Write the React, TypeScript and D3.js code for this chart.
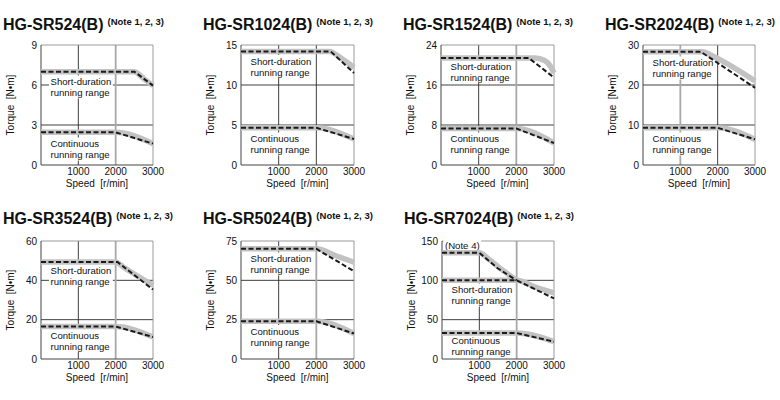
import { useEffect, useRef } from "react";
import * as d3 from "d3";

type Pt = [number, number];

// motor models, one small chart each
const models = [
  "HG-SR524(B)",
  "HG-SR1024(B)",
  "HG-SR1524(B)",
  "HG-SR2024(B)",
  "HG-SR3524(B)",
  "HG-SR5024(B)",
  "HG-SR7024(B)",
];
const torqueMax = [9, 15, 24, 30, 60, 75, 150];
const torqueTicks = [
  [0, 3, 6, 9],
  [0, 5, 10, 15],
  [0, 8, 16, 24],
  [0, 10, 20, 30],
  [0, 20, 40, 60],
  [0, 25, 50, 75],
  [0, 50, 100, 150],
];
const speedTicks = [1000, 2000, 3000];

// short-duration range: gray band and dashed curve
const shortBand: Pt[][] = [
  [[0, 7.0], [2500, 7.0], [2750, 6.48], [3000, 5.95]],
  [[0, 14.2], [2350, 14.2], [2700, 13.2], [3000, 12.2]],
  [[0, 21.4], [2500, 21.4], [2750, 20.9], [2900, 19.8], [3000, 18.4]],
  [[0, 28.3], [1600, 28.3], [1850, 27.3], [3000, 21.0]],
  [[0, 49.3], [2000, 49.3], [2200, 46.8], [3000, 37.5]],
  [[0, 70.0], [2000, 70.0], [2500, 65.8], [3000, 61.5]],
  [[0, 100], [2000, 100], [2500, 91.5], [3000, 84]],
];
const shortDash: Pt[][] = [
  [[0, 7.0], [2500, 7.0], [3000, 5.95]],
  [[0, 14.2], [2380, 14.2], [3000, 11.5]],
  [[0, 21.4], [2330, 21.4], [3000, 17.5]],
  [[0, 28.3], [1550, 28.3], [3000, 19.3]],
  [[0, 49.3], [2050, 49.3], [3000, 35.3]],
  [[0, 70.0], [2000, 70.0], [3000, 55.8]],
  [[0, 100], [2000, 100], [3000, 77]],
];
// continuous range (band and dashed coincide)
const contBand: Pt[][] = [
  [[0, 2.45], [2000, 2.45], [3000, 1.6]],
  [[0, 4.65], [2000, 4.65], [3000, 3.25]],
  [[0, 7.3], [2000, 7.3], [3000, 4.4]],
  [[0, 9.3], [2000, 9.3], [3000, 6.4]],
  [[0, 16.5], [2000, 16.5], [3000, 11.2]],
  [[0, 24.0], [2000, 24.0], [3000, 16.2]],
  [[0, 33.0], [2000, 33.0], [3000, 22.0]],
];
// HG-SR7024 (Note 4) upper curve
const note4Band: Pt[] = [[0, 135], [1000, 135], [1250, 127], [1500, 117.5], [2000, 100]];
const note4Dash: Pt[] = [[0, 135], [1000, 135], [1500, 115], [2000, 100]];

// layout
const plotLeft = [41, 241, 441, 643, 41, 241, 442];
const plotTop = [45, 45, 45, 45, 241, 241, 241];
const plotW = [112, 113, 113, 112, 112, 113, 112];
const plotH = [120, 120, 120, 120, 118, 118, 118];
const titleY = [30, 30, 30, 30, 224, 224, 224];
const shortLabelDy = [40, 19.5, 24.5, 21, 32.5, 21, 52];
const contLabelDy = [102, 97, 97, 97, 97.5, 93.5, 102.5];
const grayGrid = [2000, 0, 2000, 1000, 2000, 2000, 2000];

export default function App() {
  const svgRef = useRef<SVGSVGElement | null>(null);

  useEffect(() => {
    if (!svgRef.current) return;
    const svg = d3.select(svgRef.current);
    svg.selectAll("*").remove();

    const dark = "#2a2a2a";
    const band = "#c2c2c2";

    models.forEach((name, i) => {
      const x0 = plotLeft[i];
      const y0 = plotTop[i];
      const w = plotW[i];
      const h = plotH[i];
      const x = d3.scaleLinear().domain([0, 3000]).range([x0, x0 + w]);
      const y = d3.scaleLinear().domain([0, torqueMax[i]]).range([y0 + h, y0]);
      const g = svg.append("g");

      // title
      const t = g
        .append("text")
        .attr("x", x0 - 38)
        .attr("y", titleY[i])
        .attr("font-size", 16)
        .attr("font-weight", "bold")
        .attr("fill", "#111")
        .text(name);
      t.append("tspan")
        .attr("dx", 4)
        .attr("dy", -5)
        .attr("font-size", 9.5)
        .text("(Note 1, 2, 3)");

      // grid
      torqueTicks[i].slice(1, -1).forEach((v) => {
        g.append("line")
          .attr("x1", x0)
          .attr("x2", x0 + w)
          .attr("y1", y(v))
          .attr("y2", y(v))
          .attr("stroke", dark)
          .attr("stroke-width", 0.9);
      });
      speedTicks.slice(0, -1).forEach((v) => {
        const gray = grayGrid[i] === v;
        g.append("line")
          .attr("x1", x(v))
          .attr("x2", x(v))
          .attr("y1", y0)
          .attr("y2", y0 + h)
          .attr("stroke", gray ? "#a8a8a8" : dark)
          .attr("stroke-width", gray ? 1.8 : 0.9);
      });

      // frame: top/right light, left/bottom dark
      g.append("path")
        .attr("d", `M${x0},${y0}H${x0 + w}V${y0 + h}`)
        .attr("fill", "none")
        .attr("stroke", "#9a9a9a")
        .attr("stroke-width", 1);
      g.append("path")
        .attr("d", `M${x0},${y0}V${y0 + h}H${x0 + w}`)
        .attr("fill", "none")
        .attr("stroke", "#444")
        .attr("stroke-width", 1);

      // region labels with white boxes
      const boxLabel = (lines: string[], tx: number, ty: number) => {
        const lg = g.append("g");
        lines.forEach((s, k) => {
          lg.append("text")
            .attr("x", tx)
            .attr("y", ty + k * 11)
            .attr("font-size", 9.6)
            .attr("fill", "#111")
            .text(s);
        });
        const bb = (lg.node() as SVGGElement).getBBox();
        lg.insert("rect", ":first-child")
          .attr("x", bb.x - 1.5)
          .attr("y", bb.y - 0.5)
          .attr("width", bb.width + 3)
          .attr("height", bb.height + 1)
          .attr("fill", "#fff");
      };
      boxLabel(["Short-duration", "running range"], x0 + 9.5, y0 + shortLabelDy[i]);
      boxLabel(["Continuous", "running range"], x0 + 9.5, y0 + contLabelDy[i]);
      if (i === 6) boxLabel(["(Note 4)"], x0 + 3, y0 + 7.5);

      // curves
      const smooth = d3
        .line<Pt>()
        .x((d) => x(d[0]))
        .y((d) => y(d[1]))
        .curve(d3.curveMonotoneX);
      const straight = d3
        .line<Pt>()
        .x((d) => x(d[0]))
        .y((d) => y(d[1]));

      const bands: Pt[][] = [shortBand[i], contBand[i]];
      const dashes: Pt[][] = [shortDash[i], contBand[i]];
      if (i === 6) {
        bands.push(note4Band);
        dashes.push(note4Dash);
      }
      bands.forEach((d) => {
        g.append("path")
          .datum(d)
          .attr("d", smooth)
          .attr("fill", "none")
          .attr("stroke", band)
          .attr("stroke-width", 5.5);
      });
      dashes.forEach((d) => {
        g.append("path")
          .datum(d)
          .attr("d", straight)
          .attr("fill", "none")
          .attr("stroke", "#1a1a1a")
          .attr("stroke-width", 2)
          .attr("stroke-dasharray", "5,2.5");
      });

      // tick labels
      torqueTicks[i].forEach((v) => {
        g.append("text")
          .attr("x", x0 - 4)
          .attr("y", y(v))
          .attr("dy", "0.35em")
          .attr("text-anchor", "end")
          .attr("font-size", 10)
          .attr("fill", "#111")
          .text(v);
      });
      speedTicks.forEach((v) => {
        g.append("text")
          .attr("x", x(v))
          .attr("y", y0 + h + 9.5)
          .attr("text-anchor", "middle")
          .attr("font-size", 10)
          .attr("fill", "#111")
          .text(v);
      });
      g.append("text")
        .attr("x", x0 + w / 2)
        .attr("y", y0 + h + 22)
        .attr("text-anchor", "middle")
        .attr("font-size", 10)
        .attr("fill", "#111")
        .text("Speed\u00a0\u00a0[r/min]");
      g.append("text")
        .attr(
          "transform",
          `translate(${x0 - 31},${y0 + h / 2}) rotate(-90)`
        )
        .attr("text-anchor", "middle")
        .attr("dy", "0.35em")
        .attr("font-size", 10)
        .attr("fill", "#111")
        .text("Torque\u00a0\u00a0[N\u2022m]");
    });
  }, []);

  return (
    <div style={{ position: "absolute", left: 0, top: 0, background: "#fff" }}>
      <svg
        ref={svgRef}
        width={780}
        height={400}
        fontFamily="'Liberation Sans', Arial, sans-serif"
      />
    </div>
  );
}
